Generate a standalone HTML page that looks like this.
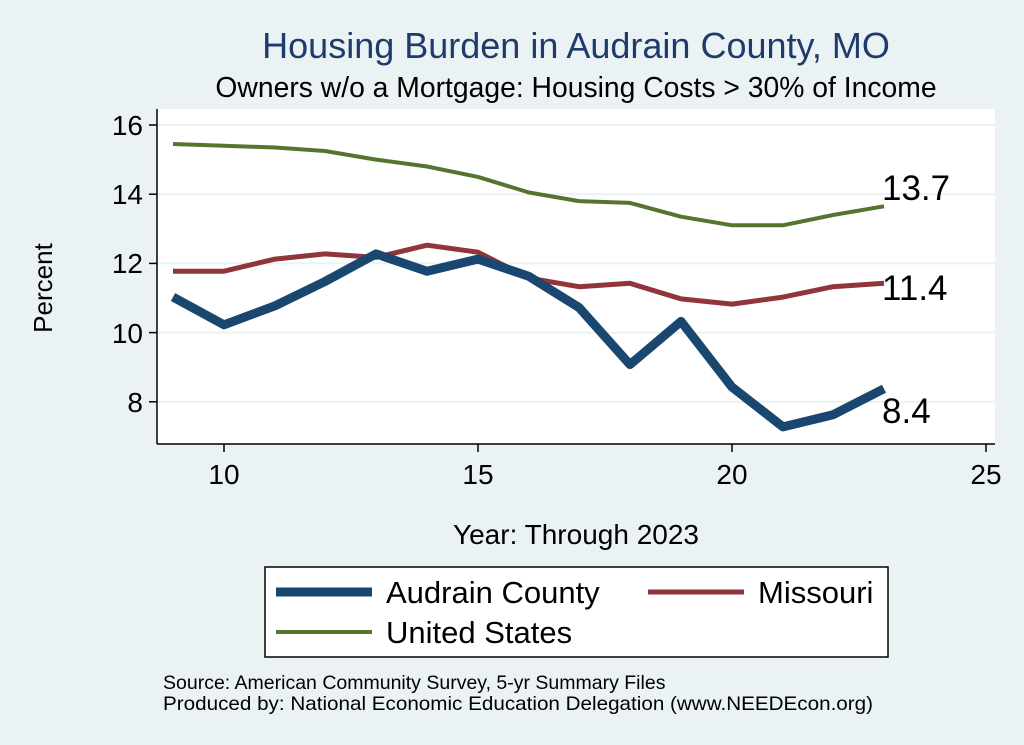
<!DOCTYPE html>
<html><head><style>
body{margin:0;background:#eaf2f3;}
svg{display:block;font-family:"Liberation Sans",Arial,sans-serif;}
</style></head><body>
<svg width="1024" height="745" viewBox="0 0 1024 745">
<rect x="0" y="0" width="1024" height="745" fill="#eaf2f3"/>
<rect x="157" y="109" width="838" height="335" fill="#fff"/>
<g stroke="#eaf2f3" stroke-width="2">
<line x1="157" x2="995" y1="125" y2="125"/><line x1="157" x2="995" y1="194.2" y2="194.2"/><line x1="157" x2="995" y1="263.4" y2="263.4"/><line x1="157" x2="995" y1="332.6" y2="332.6"/><line x1="157" x2="995" y1="401.8" y2="401.8"/>
</g>
<g stroke="#000" stroke-width="1.5">
<line x1="157" y1="109" x2="157" y2="444"/><line x1="157" y1="444" x2="995" y2="444"/>
<line x1="149" x2="157" y1="125" y2="125"/><line x1="149" x2="157" y1="194.2" y2="194.2"/><line x1="149" x2="157" y1="263.4" y2="263.4"/><line x1="149" x2="157" y1="332.6" y2="332.6"/><line x1="149" x2="157" y1="401.8" y2="401.8"/>
<line x1="224" x2="224" y1="444" y2="452"/><line x1="478" x2="478" y1="444" y2="452"/><line x1="732" x2="732" y1="444" y2="452"/><line x1="986" x2="986" y1="444" y2="452"/>
</g>
<g font-size="28" text-anchor="end" fill="#000">
<text x="143" y="135">16</text><text x="143" y="204">14</text><text x="143" y="273">12</text><text x="143" y="343">10</text><text x="143" y="412">8</text>
</g>
<g font-size="28" text-anchor="middle">
<text x="224" y="484">10</text><text x="478" y="484">15</text><text x="732" y="484">20</text><text x="986" y="484">25</text>
</g>
<text x="52" y="288" font-size="26" text-anchor="middle" transform="rotate(-90 52 288)">Percent</text>
<text x="576" y="544" font-size="28" text-anchor="middle">Year: Through 2023</text>
<text x="576" y="58" font-size="36" text-anchor="middle" fill="#1f3b6b">Housing Burden in Audrain County, MO</text>
<text x="576" y="97" font-size="28.3" text-anchor="middle">Owners w/o a Mortgage: Housing Costs &gt; 30% of Income</text>
<g fill="none" stroke-linejoin="round">
<polyline stroke="#55752f" stroke-width="4" points="173,144 224,145.8 275,147.5 325,151 376,159.6 427,166.5 478,176.9 529,192.5 579,201.1 630,202.9 681,216.7 732,225.3 783,225.3 833,215 884,206.3"/>
<polyline stroke="#90353b" stroke-width="5" points="173,271.2 224,271.2 275,259.1 325,253.9 376,257.4 427,245.2 478,252.2 529,278.1 579,286.7 630,283.3 681,298.9 732,304.1 783,297.1 833,286.7 884,283.3"/>
<polyline stroke="#1a476f" stroke-width="9" points="173,297.1 224,324.8 275,305.8 325,281.5 376,253.9 427,271.2 478,259.1 529,276.4 579,307.5 630,364.6 681,321.4 732,387.1 783,426.9 833,414.8 884,388.8"/>
</g>
<g font-size="35"><text x="882" y="200">13.7</text><text x="882" y="300">11.4</text><text x="882" y="423">8.4</text></g>
<rect x="265" y="567" width="623" height="90" fill="#fff" stroke="#000" stroke-width="1.5"/>
<line x1="276" x2="372" y1="592" y2="592" stroke="#1a476f" stroke-width="9"/>
<text x="386" y="603" font-size="31">Audrain County</text>
<line x1="648" x2="744" y1="592" y2="592" stroke="#90353b" stroke-width="5"/>
<text x="758" y="603" font-size="31">Missouri</text>
<line x1="276" x2="372" y1="632" y2="632" stroke="#55752f" stroke-width="4"/>
<text x="386" y="643" font-size="31">United States</text>
<text x="163" y="689" font-size="19.5">Source: American Community Survey, 5-yr Summary Files</text>
<text x="163" y="710" font-size="19.5" textLength="710" lengthAdjust="spacingAndGlyphs">Produced by: National Economic Education Delegation (www.NEEDEcon.org)</text>
</svg>
</body></html>
